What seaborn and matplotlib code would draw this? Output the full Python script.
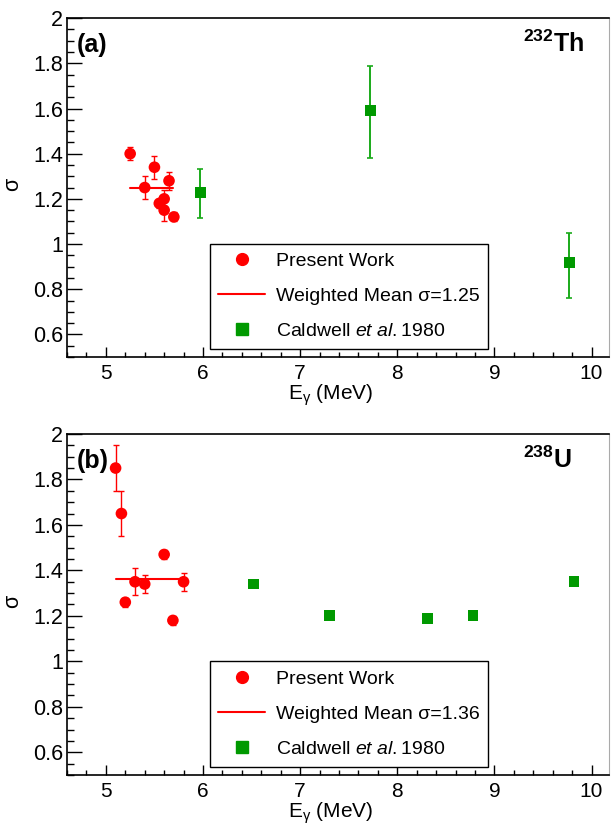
import matplotlib
matplotlib.use("Agg")
import matplotlib.pyplot as plt
import seaborn as sns
from matplotlib.lines import Line2D
from matplotlib.ticker import MultipleLocator

# ---- data ----
# (a) 232Th
th_x = [5.25, 5.50, 5.40, 5.65, 5.55, 5.60, 5.60, 5.70]
th_y = [1.40, 1.34, 1.25, 1.28, 1.18, 1.20, 1.15, 1.12]
th_err = [0.03, 0.05, 0.05, 0.04, 0.02, 0.04, 0.05, 0.02]
th_mean = 1.25
th_mean_x = [5.25, 5.69]
th_cal_x = [5.97, 7.72, 9.77]
th_cal_y = [1.23, 1.59, 0.92]
th_cal_lo = [0.115, 0.21, 0.16]
th_cal_hi = [0.10, 0.20, 0.13]

# (b) 238U
u_x = [5.10, 5.16, 5.20, 5.30, 5.40, 5.60, 5.69, 5.80]
u_y = [1.85, 1.65, 1.26, 1.35, 1.34, 1.47, 1.18, 1.35]
u_err = [0.10, 0.10, 0.02, 0.06, 0.04, 0.02, 0.02, 0.04]
u_mean = 1.36
u_mean_x = [5.10, 5.80]
u_cal_x = [6.52, 7.30, 8.31, 8.78, 9.82]
u_cal_y = [1.34, 1.20, 1.19, 1.20, 1.35]
u_cal_lo = [0.01, 0.01, 0.01, 0.01, 0.01]
u_cal_hi = [0.01, 0.01, 0.01, 0.01, 0.01]

RED = "#ff0000"
GREEN = "#009900"
GREEN_BAR = "#1aaa1a"

sns.set_style("white")
plt.rcParams["font.family"] = ["Liberation Sans", "DejaVu Sans"]
plt.rcParams["mathtext.fontset"] = "custom"
plt.rcParams["mathtext.rm"] = "Liberation Sans"
plt.rcParams["mathtext.it"] = "Liberation Sans:italic"
for k in ["text.color", "axes.labelcolor", "xtick.color", "ytick.color"]:
    plt.rcParams[k] = "black"

fig = plt.figure(figsize=(6.11, 8.25), dpi=100)
ax_a = fig.add_axes([0.1097, 0.5673, 0.887, 0.4107])
ax_b = fig.add_axes([0.1097, 0.0606, 0.887, 0.4134])


def panel(ax, x, y, err, mean, mean_x, cx, cy, clo, chi, tag, nuc_mass, nuc, nuc_x):
    ax.errorbar(x, y, yerr=err, fmt="none", ecolor=RED, elinewidth=1.0,
                capsize=2, capthick=1.0, zorder=2)
    ax.errorbar(cx, cy, yerr=[clo, chi], fmt="none", ecolor=GREEN_BAR,
                elinewidth=1.4, capsize=2.2, capthick=1.2, zorder=2)
    ax.plot(mean_x, [mean, mean], color=RED, lw=1.5, zorder=3)
    sns.scatterplot(x=x, y=y, ax=ax, color=RED, marker="o", s=70,
                    edgecolor="none", linewidth=0, zorder=4, legend=False)
    sns.scatterplot(x=cx, y=cy, ax=ax, color=GREEN, marker="s", s=62,
                    edgecolor="none", linewidth=0, zorder=4, legend=False)

    ax.set_xlim(4.6, 10.18)
    ax.set_ylim(0.5, 2.0)
    ax.xaxis.set_minor_locator(MultipleLocator(0.2))
    ax.yaxis.set_minor_locator(MultipleLocator(0.05))
    ax.set_yticks([0.6, 0.8, 1.0, 1.2, 1.4, 1.6, 1.8, 2.0])
    ax.set_yticklabels(["0.6", "0.8", "1", "1.2", "1.4", "1.6", "1.8", "2"])
    ax.set_xticks([5, 6, 7, 8, 9, 10])
    ax.set_xticklabels(["5", "6", "7", "8", "9", "10"])
    ax.tick_params(axis="y", which="major", direction="in", length=11, width=1.0,
                   labelsize=15.5, pad=3, left=True, right=False)
    ax.tick_params(axis="y", which="minor", direction="in", length=5, width=1.0,
                   left=True, right=False)
    ax.tick_params(axis="x", which="major", direction="in", length=7, width=1.0,
                   labelsize=15, pad=5, bottom=True, top=False)
    ax.tick_params(axis="x", which="minor", direction="in", length=3.6, width=1.0,
                   bottom=True, top=False)
    for s in ["left", "bottom", "top"]:
        ax.spines[s].set_color("black")
        ax.spines[s].set_linewidth(1.2)
    ax.spines["right"].set_color("#aaaaaa")
    ax.spines["right"].set_linewidth(0.8)

    ax.set_xlabel(r"$\mathregular{E_{\gamma}}$ (MeV)", fontsize=15)
    ax.xaxis.label.set_va("baseline")
    ax.xaxis.set_label_coords(0.487, -0.125)
    ax.set_ylabel("σ", fontsize=15.5)
    ax.yaxis.label.set_va("center")
    ax.yaxis.set_label_coords(-0.0996, 0.51)

    ax.text(0.018, 0.922, tag, transform=ax.transAxes, fontsize=18,
            fontweight="bold", ha="left", va="center")
    ax.text(nuc_x, 0.90, r"$\mathregular{^{%s}}$%s" % (nuc_mass, nuc),
            transform=ax.transAxes, fontsize=18, fontweight="bold",
            ha="right", va="baseline")

    handles = [
        Line2D([], [], ls="none", marker="o", color=RED, markersize=8.5),
        Line2D([], [], color=RED, lw=1.5),
        Line2D([], [], ls="none", marker="s", color=GREEN, markersize=8),
    ]
    labels = ["Present Work", "Weighted Mean σ=%.2f" % mean,
              r"Caldwell $\it{et\ al.}$1980"]
    leg = ax.legend(handles, labels, loc="lower left", bbox_to_anchor=(0.263, 0.024),
                    fontsize=14, frameon=True, fancybox=False, framealpha=1,
                    edgecolor="black", borderpad=0.45, labelspacing=0.9,
                    handlelength=2.4, handletextpad=0.55, borderaxespad=0)
    leg.get_frame().set_linewidth(1.0)


panel(ax_a, th_x, th_y, th_err, th_mean, th_mean_x, th_cal_x, th_cal_y,
      th_cal_lo, th_cal_hi, "(a)", "232", "Th", 0.954)
panel(ax_b, u_x, u_y, u_err, u_mean, u_mean_x, u_cal_x, u_cal_y,
      u_cal_lo, u_cal_hi, "(b)", "238", "U", 0.932)

fig.savefig("out.png", dpi=100)
